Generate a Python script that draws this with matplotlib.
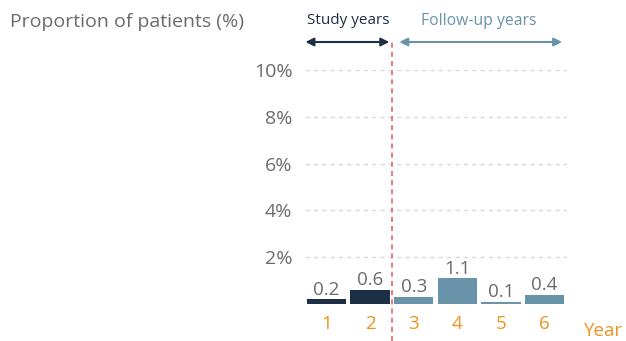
import matplotlib
matplotlib.use("Agg")
import matplotlib.pyplot as plt

# proportion of patients per year (%)
years = [1, 2, 3, 4, 5, 6]
values = [0.2, 0.6, 0.3, 1.1, 0.1, 0.4]
period = ["study", "study", "follow", "follow", "follow", "follow"]
y_ticks = [2, 4, 6, 8, 10]
y_labels = ["2%", "4%", "6%", "8%", "10%"]

NAVY = "#1d2f45"
STEEL = "#6993a9"
ORANGE = "#f0921d"
GRAY = "#6b6b6b"
RED = "#e8646a"

plt.rcParams["font.family"] = ["Open Sans", "DejaVu Sans"]

fig = plt.figure(figsize=(6.26, 3.41), dpi=100)
ax = fig.add_axes([0.487, 0.1085, 0.419, 0.686])

colors = [NAVY if p == "study" else STEEL for p in period]
bars = ax.bar(years, values, width=0.9, color=colors, zorder=3)
for x, v in zip(years, values):
    ax.annotate(f"{v}", (x, v), xytext=(0, 0.5), textcoords="offset points",
                ha="center", va="bottom", fontsize=13.5, color=GRAY)

ax.set_xlim(0.507, 6.516)
ax.set_ylim(0, 10)
ax.set_yticks(y_ticks)
ax.set_yticklabels(y_labels)
ax.set_xticks(years)
ax.set_xticklabels([str(y) for y in years])
ax.tick_params(axis="y", length=0, pad=9, labelsize=14, labelcolor=GRAY)
ax.tick_params(axis="x", length=0, pad=8, labelsize=13.5, labelcolor=ORANGE)
ax.grid(axis="y", color="#d9d9d9", linestyle=(0, (3, 3)), linewidth=1, zorder=0)
for s in ax.spines.values():
    s.set_visible(False)

# divider between study and follow-up periods
ax.axvline(2.5, ymin=-0.16, ymax=1.13, color=RED, linestyle=(0, (3, 2.5)),
           linewidth=1.2, clip_on=False, zorder=4)

ax.annotate("", xy=(0.52, 11.2), xytext=(2.44, 11.2), annotation_clip=False,
            arrowprops=dict(arrowstyle="<|-|>", color=NAVY, lw=1.5,
                            mutation_scale=12, shrinkA=0, shrinkB=0))
ax.annotate("", xy=(2.67, 11.2), xytext=(6.4, 11.2), annotation_clip=False,
            arrowprops=dict(arrowstyle="<|-|>", color=STEEL, lw=1.5,
                            mutation_scale=12, shrinkA=0, shrinkB=0))
ax.text(1.5, 12.1, "Study years", ha="center", va="center", fontsize=11,
        color=NAVY, clip_on=False)
ax.text(4.5, 12.1, "Follow-up years", ha="center", va="center", fontsize=11.3,
        color=STEEL, clip_on=False)

fig.text(10 / 626, 1 - 22 / 341, "Proportion of patients (%)", ha="left",
         va="center", fontsize=14, color=GRAY)
fig.text(584 / 626, 1 - 331 / 341, "Year", ha="left", va="center",
         fontsize=13.5, color=ORANGE)

fig.savefig("out.png", dpi=100)
